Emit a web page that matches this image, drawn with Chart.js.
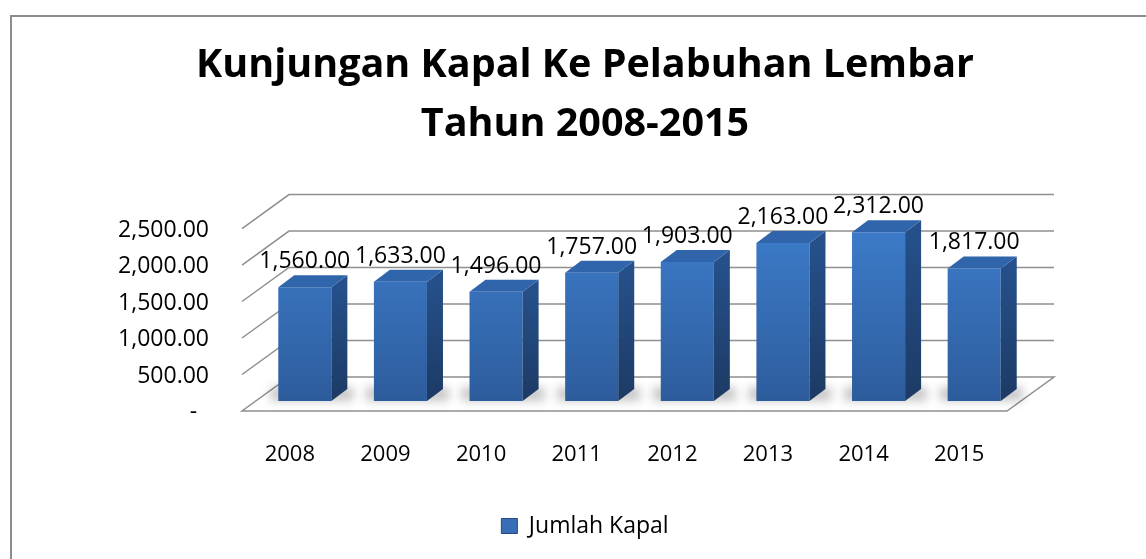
<!DOCTYPE html>
<html>
<head>
<meta charset="utf-8">
<script src="https://cdn.jsdelivr.net/npm/chart.js@4.4.0/dist/chart.umd.min.js"></script>
<style>
  html, body { margin: 0; padding: 0; background: #fff; overflow: hidden; }
  #frame { position: absolute; left: 10px; top: 15px; width: 1200px; height: 600px; border: 2px solid #8c8c8c; }
  #myChart { position: absolute; left: 0; top: 0; }
</style>
</head>
<body>
<div id="frame"></div>
<canvas id="myChart" width="1146" height="559"></canvas>
<script>
const chartTitle = ['Kunjungan Kapal Ke Pelabuhan Lembar', 'Tahun 2008-2015'];
const seriesName = 'Jumlah Kapal';
const years = ['2008', '2009', '2010', '2011', '2012', '2013', '2014', '2015'];
const jumlahKapal = [1560, 1633, 1496, 1757, 1903, 2163, 2312, 1817];
const yTicks = [0, 500, 1000, 1500, 2000, 2500];

// fake 3d: offsets of the back wall, front edge and bar depth, relative to the bar plane
const BACK = { dx: 32, dy: -24 };
const FRONT = { dx: -15, dy: 10 };
const DEPTH = { dx: 16, dy: -12 };

function fmt(v) {
  return v.toLocaleString('en-US', { minimumFractionDigits: 2, maximumFractionDigits: 2 });
}

function frontColor(context) {
  const chart = context.chart;
  const area = chart.chartArea;
  if (!area) return '#3a72c0';
  const g = chart.ctx.createLinearGradient(0, area.top, 0, area.bottom);
  g.addColorStop(0, '#3d7dcc');
  g.addColorStop(1, '#2d5c9c');
  return g;
}

const walls3d = {
  id: 'walls3d',
  beforeDatasetsDraw(chart) {
    const { ctx, chartArea: a, scales: { y } } = chart;
    const y0 = y.getPixelForValue(0);
    ctx.save();
    ctx.strokeStyle = '#8f8f8f';
    ctx.lineWidth = 1.5;
    // floor
    ctx.beginPath();
    ctx.moveTo(a.left + FRONT.dx, y0 + FRONT.dy);
    ctx.lineTo(a.right + FRONT.dx, y0 + FRONT.dy);
    ctx.lineTo(a.right + BACK.dx, y0 + BACK.dy);
    ctx.lineTo(a.left + BACK.dx, y0 + BACK.dy);
    ctx.closePath();
    ctx.fillStyle = '#fff';
    ctx.fill();
    ctx.stroke();
    // wall gridlines
    yTicks.forEach(v => {
      if (v === 0) return;
      const py = y.getPixelForValue(v);
      ctx.beginPath();
      ctx.moveTo(a.left + FRONT.dx, py + FRONT.dy);
      ctx.lineTo(a.left + BACK.dx, py + BACK.dy);
      ctx.lineTo(a.right + BACK.dx, py + BACK.dy);
      ctx.stroke();
    });
    // soft shadows on the floor
    const meta = chart.getDatasetMeta(0);
    ctx.filter = 'blur(5px)';
    ctx.fillStyle = 'rgba(0,0,0,0.22)';
    meta.data.forEach(bar => {
      const p = bar.getProps(['x', 'base', 'width'], true);
      ctx.fillRect(p.x - p.width / 2 - 8, p.base - 14, p.width + 30, 14);
    });
    ctx.restore();
  },
  afterDatasetsDraw(chart) {
    const { ctx } = chart;
    const meta = chart.getDatasetMeta(0);
    ctx.save();
    meta.data.forEach((bar, i) => {
      const p = bar.getProps(['x', 'y', 'base', 'width'], true);
      const l = p.x - p.width / 2, r = p.x + p.width / 2;
      // side
      const sg = ctx.createLinearGradient(0, p.y, 0, p.base);
      sg.addColorStop(0, '#25508a');
      sg.addColorStop(1, '#1d3a64');
      ctx.fillStyle = sg;
      ctx.beginPath();
      ctx.moveTo(r, p.y);
      ctx.lineTo(r + DEPTH.dx, p.y + DEPTH.dy);
      ctx.lineTo(r + DEPTH.dx, p.base + DEPTH.dy);
      ctx.lineTo(r, p.base);
      ctx.closePath();
      ctx.fill();
      // top
      ctx.fillStyle = '#3165ab';
      ctx.beginPath();
      ctx.moveTo(l, p.y);
      ctx.lineTo(l + DEPTH.dx, p.y + DEPTH.dy);
      ctx.lineTo(r + DEPTH.dx, p.y + DEPTH.dy);
      ctx.lineTo(r, p.y);
      ctx.closePath();
      ctx.fill();
      // value label
      ctx.fillStyle = '#000';
      ctx.font = '23px "Open Sans"';
      ctx.textAlign = 'center';
      ctx.textBaseline = 'alphabetic';
      ctx.fillText(fmt(jumlahKapal[i]), p.x, p.y - 19);
    });
    ctx.restore();
  }
};

const ctx = document.getElementById('myChart').getContext('2d');
const myChart = new Chart(ctx, {
  type: 'bar',
  data: {
    labels: years,
    datasets: [{
      label: seriesName,
      data: jumlahKapal,
      backgroundColor: frontColor,
      borderWidth: 0,
      barPercentage: 0.555,
      categoryPercentage: 1
    }]
  },
  options: {
    responsive: false,
    animation: false,
    layout: { padding: { left: 24, right: 0, top: 0, bottom: 11.5 } },
    plugins: {
      title: {
        display: true,
        text: chartTitle,
        color: '#000',
        font: { family: 'Open Sans', size: 39.5, weight: 'bold', lineHeight: 1.494 },
        padding: { top: 36.2, bottom: 64.3 }
      },
      legend: {
        position: 'bottom',
        labels: {
          color: '#000',
          font: { family: 'Open Sans', size: 23 },
          boxWidth: 16,
          boxHeight: 15,
          padding: 10,
          generateLabels: () => [{
            text: seriesName,
            fillStyle: '#3a6db8',
            strokeStyle: '#24497f',
            lineWidth: 1,
            hidden: false,
            datasetIndex: 0
          }]
        }
      },
      tooltip: { enabled: false }
    },
    scales: {
      x: {
        grid: { display: false, drawTicks: false },
        border: { display: false },
        ticks: {
          color: '#000',
          font: { family: 'Open Sans', size: 22 },
          padding: 40.3,
          labelOffset: FRONT.dx
        },
        afterFit: s => { s.height = 103.5; }
      },
      y: {
        min: 0,
        max: 2500,
        grid: { display: false, drawTicks: false },
        border: { display: false },
        ticks: {
          stepSize: 500,
          color: '#000',
          font: { family: 'Open Sans', size: 23 },
          padding: 48,
          labelOffset: 11.6,
          callback: v => v === 0 ? '-  ' : fmt(v)
        },
        afterFit: s => { s.width = 233; }
      },
      yRight: {
        position: 'right',
        display: true,
        min: 0,
        max: 1,
        grid: { display: false, drawTicks: false },
        border: { display: false },
        ticks: { display: false },
        afterFit: s => { s.width = 124; }
      }
    }
  },
  plugins: [walls3d]
});
</script>
</body>
</html>
